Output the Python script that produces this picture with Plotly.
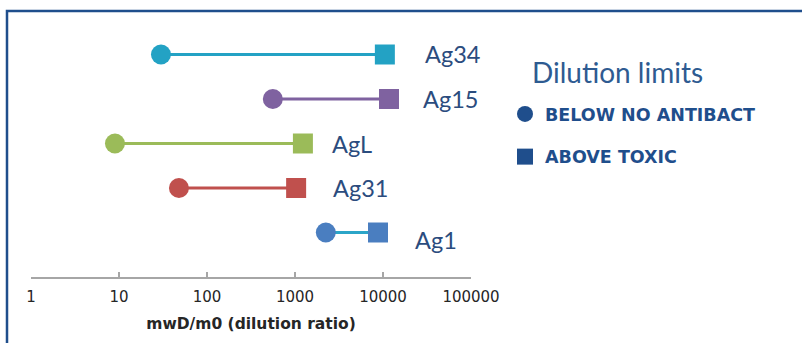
import math
import plotly.graph_objects as go

# ---- data ----
antigens = ["Ag34", "Ag15", "AgL", "Ag31", "Ag1"]
below_no_antibact = [30, 560, 9, 48, 2240]
above_toxic = [10500, 11700, 1230, 1030, 8770]
tick_values = [1, 10, 100, 1000, 10000, 100000]
tick_labels = ["1", "10", "100", "1000", "10000", "100000"]
legend_names = ["BELOW NO ANTIBACT", "ABOVE TOXIC"]

# ---- styling ----
marker_colors = ["#23A2C4", "#7F62A0", "#9BBB59", "#C0504D", "#4A7EC0"]
line_colors = ["#23A2C4", "#7F62A0", "#9BBB59", "#C0504D", "#2BA5C8"]
label_xshift = [38, 32, 27, 35, 35]
label_yshift = [0, 0, 0, 0, -7]
DARK = "#1F4E8C"
TEXT = "#2B4C7E"

W, H = 802, 343
def px(x):
    return x / W
def py(y):
    return 1 - y / H

fig = go.Figure()

# connecting lines
for i, name in enumerate(antigens):
    fig.add_trace(go.Scatter(
        x=[below_no_antibact[i], above_toxic[i]],
        y=[name, name],
        mode="lines",
        line=dict(color=line_colors[i], width=3),
        showlegend=False, cliponaxis=False, hoverinfo="skip",
    ))
# end markers
for i, name in enumerate(antigens):
    fig.add_trace(go.Scatter(
        x=[below_no_antibact[i]], y=[name], mode="markers",
        marker=dict(symbol="circle", size=20, color=marker_colors[i],
                    opacity=1, line=dict(width=0)),
        showlegend=False, cliponaxis=False, name=legend_names[0],
    ))
    fig.add_trace(go.Scatter(
        x=[above_toxic[i]], y=[name], mode="markers",
        marker=dict(symbol="square", size=20, color=marker_colors[i],
                    opacity=1, line=dict(width=0)),
        showlegend=False, cliponaxis=False, name=legend_names[1],
    ))
    fig.add_annotation(
        x=math.log10(above_toxic[i]), y=name, xref="x", yref="y",
        text=name, showarrow=False, xanchor="left", yanchor="middle",
        xshift=label_xshift[i], yshift=label_yshift[i],
        font=dict(family="Lato", size=23.5, color=TEXT),
    )

for lname, sym in zip(legend_names, ["circle", "square"]):
    fig.add_trace(go.Scatter(
        x=[None], y=[None], mode="markers", name=lname,
        marker=dict(symbol=sym, size=18, color=DARK, opacity=1),
        legendgroup=lname,
    ))

fig.add_annotation(
    x=px(530), y=py(72), xref="paper", yref="paper",
    xanchor="left", yanchor="middle", showarrow=False,
    text="Dilution limits",
    font=dict(family="Lato", size=28, color="#2E5B91"),
)

fig.update_layout(
    width=W, height=H, autosize=False,
    margin=dict(l=0, r=0, t=0, b=0, pad=0, autoexpand=False),
    paper_bgcolor="white", plot_bgcolor="white",
    showlegend=True,
    legend=dict(
        x=px(505), y=py(96), xanchor="left", yanchor="top",
        font=dict(family="DejaVu Sans", size=17.5, color=DARK, weight="bold"),
        tracegroupgap=17, bgcolor="rgba(0,0,0,0)",
    ),
    xaxis=dict(
        type="log", range=[0, 5], domain=[px(31), px(471)], anchor="y",
        automargin=False,
        showline=True, linecolor="#A6A6A6", linewidth=1.5,
        ticks="inside", ticklen=5, tickcolor="#A6A6A6", tickwidth=1.5,
        tickvals=tick_values, ticktext=tick_labels,
        ticklabelstandoff=5,
        tickfont=dict(family="DejaVu Sans", size=15, color="#262626"),
        showgrid=False, zeroline=False,
        title=dict(text="<b>mwD/m0 (dilution ratio)</b>", standoff=13,
                   font=dict(family="DejaVu Sans", size=15.5, color="#262626")),
    ),
    yaxis=dict(
        type="category", categoryorder="array", categoryarray=antigens[::-1],
        range=[-1, 4.5], domain=[py(277), py(32.25)], automargin=False,
        visible=False, showgrid=False, zeroline=False,
    ),
    shapes=[dict(type="rect", xref="paper", yref="paper",
                 x0=px(7), x1=1.02, y0=-0.05, y1=py(11),
                 line=dict(color=DARK, width=2.5), fillcolor="rgba(0,0,0,0)",
                 layer="above")],
)

post = (
    "document.body.style.margin='0';"
    "document.body.style.overflow='hidden';"
    "var gd=document.getElementById('{plot_id}');"
    "gd.style.width='802px';gd.style.height='343px';"
    "Plotly.relayout(gd,{width:802,height:343});"
)

fig.write_html("out.html", post_script=post, config={"displayModeBar": False})
